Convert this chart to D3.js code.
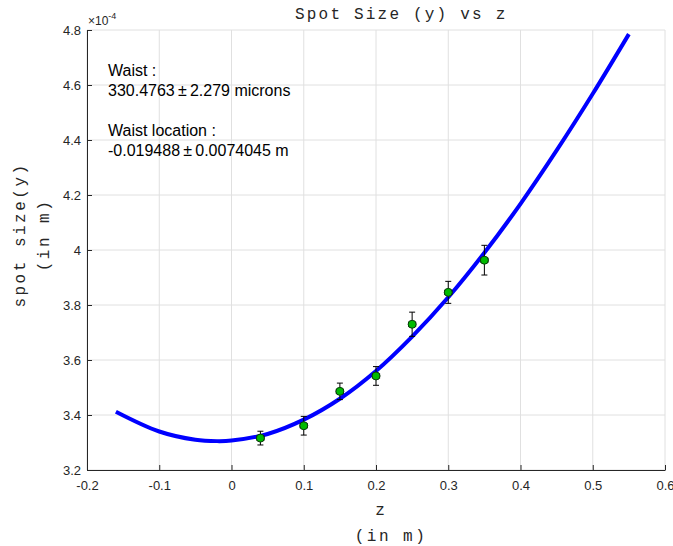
<!DOCTYPE html>
<html lang="en">
<head>
    <meta charset="UTF-8">
    <script src="https://cdn.jsdelivr.net/npm/d3@7.8.5/dist/d3.min.js"></script>
    <title>Spot Size (y) vs z</title>
    <style>
        body { margin: 0; background: #fff; }
        .tick text { font-family: "Liberation Sans", Arial, sans-serif; font-size: 13px; fill: #262626; }
        .mono { font-family: "Liberation Mono", "Courier New", monospace; fill: #262626; }
        .note { font-family: "Liberation Sans", Arial, sans-serif; font-size: 16px; fill: #000; }
        .expo { font-family: "Liberation Sans", Arial, sans-serif; font-size: 12px; fill: #262626; }
    </style>
</head>
<body>
    <svg width="673" height="546"></svg>
    <script type="text/javascript">
        // measured points (z in m, spot size in units of 1e-4 m)
        var zPos = [0.04, 0.10, 0.15, 0.20, 0.25, 0.30, 0.35];
        var spotSize = [3.316, 3.361, 3.486, 3.542, 3.730, 3.846, 3.963];
        var spotErr = [0.025, 0.034, 0.030, 0.034, 0.044, 0.040, 0.054];
        var zErr = [0.005, 0.005, 0.005, 0.005, 0.005, 0.005, 0.005];

        // fitted curve
        var fitZ = [-0.16, -0.10, -0.05, -0.02, 0, 0.05, 0.10, 0.15, 0.20, 0.25, 0.30, 0.35, 0.40, 0.45, 0.50, 0.55];
        var fitSize = [3.412, 3.340, 3.310, 3.305, 3.307, 3.331, 3.383, 3.459, 3.560, 3.685, 3.828, 3.990, 4.168, 4.362, 4.568, 4.785];

        var xTicks = [-0.2, -0.1, 0, 0.1, 0.2, 0.3, 0.4, 0.5, 0.6];
        var yTicks = [3.2, 3.4, 3.6, 3.8, 4, 4.2, 4.4, 4.6, 4.8];

        var noteLines = ["Waist :", "330.4763\u2009\u00b1\u20092.279 microns", "", "Waist location :", "-0.019488\u2009\u00b1\u20090.0074045 m"];

        var svg = d3.select("svg");
        var pLeft = 87, pRight = 665, pTop = 30, pBottom = 470;

        var xScale = d3.scaleLinear().domain([-0.2, 0.6]).range([pLeft, pRight]);
        var yScale = d3.scaleLinear().domain([3.2, 4.8]).range([pBottom, pTop]);
        var fmt = function(d) { return String(+d.toFixed(1)); };

        // grid
        var grid = svg.append("g");
        grid.selectAll(".gx").data(xTicks).enter().append("line")
            .attr("x1", function(d){ return xScale(d); }).attr("x2", function(d){ return xScale(d); })
            .attr("y1", pTop).attr("y2", pBottom)
            .attr("stroke", "#e0e0e0").attr("stroke-width", 1);
        grid.selectAll(".gy").data(yTicks).enter().append("line")
            .attr("y1", function(d){ return yScale(d); }).attr("y2", function(d){ return yScale(d); })
            .attr("x1", pLeft).attr("x2", pRight)
            .attr("stroke", "#e0e0e0").attr("stroke-width", 1);

        // axes, ticks pointing inward
        var xAxis = svg.append("g").attr("transform", "translate(0," + pBottom + ")")
            .call(d3.axisTop(xScale).tickValues(xTicks).tickFormat(fmt).tickSizeInner(5).tickSizeOuter(0));
        xAxis.selectAll(".tick text").attr("y", 20).attr("dy", 0);
        var yAxis = svg.append("g").attr("transform", "translate(" + pLeft + ",0)")
            .call(d3.axisRight(yScale).tickValues(yTicks).tickFormat(fmt).tickSizeInner(5).tickSizeOuter(0));
        yAxis.selectAll(".tick text").attr("x", -6).attr("text-anchor", "end").attr("dy", "0.35em");
        svg.selectAll(".domain, .tick line").attr("stroke", "#262626");

        // exponent label
        var ex = svg.append("text").attr("class", "expo").attr("x", 88).attr("y", 25);
        ex.append("tspan").text("\u00d710");
        ex.append("tspan").attr("dy", -6).style("font-size", "9px").text("-4");

        // fitted curve
        var line = d3.line()
            .x(function(d, i){ return xScale(fitZ[i]); })
            .y(function(d){ return yScale(d); })
            .curve(d3.curveCatmullRom);
        svg.append("path").datum(fitSize)
            .attr("d", line).attr("fill", "none")
            .attr("stroke", "#0000ff").attr("stroke-width", 4);

        // error bars + points
        var pts = svg.append("g").selectAll("g").data(zPos).enter().append("g");
        pts.append("line")
            .attr("x1", function(d){ return xScale(d); }).attr("x2", function(d){ return xScale(d); })
            .attr("y1", function(d, i){ return yScale(spotSize[i] + spotErr[i]); })
            .attr("y2", function(d, i){ return yScale(spotSize[i] - spotErr[i]); })
            .attr("stroke", "#000").attr("stroke-width", 1);
        [1, -1].forEach(function(s) {
            pts.append("line")
                .attr("x1", function(d){ return xScale(d) - 3; }).attr("x2", function(d){ return xScale(d) + 3; })
                .attr("y1", function(d, i){ return yScale(spotSize[i] + s * spotErr[i]); })
                .attr("y2", function(d, i){ return yScale(spotSize[i] + s * spotErr[i]); })
                .attr("stroke", "#000").attr("stroke-width", 1);
            pts.append("line")
                .attr("x1", function(d, i){ return xScale(d + s * zErr[i]); })
                .attr("x2", function(d, i){ return xScale(d + s * zErr[i]); })
                .attr("y1", function(d, i){ return yScale(spotSize[i]) - 2.5; })
                .attr("y2", function(d, i){ return yScale(spotSize[i]) + 2.5; })
                .attr("stroke", "#000").attr("stroke-width", 1);
        });
        pts.append("line")
            .attr("x1", function(d, i){ return xScale(d - zErr[i]); })
            .attr("x2", function(d, i){ return xScale(d + zErr[i]); })
            .attr("y1", function(d, i){ return yScale(spotSize[i]); })
            .attr("y2", function(d, i){ return yScale(spotSize[i]); })
            .attr("stroke", "#000").attr("stroke-width", 1);
        pts.append("circle")
            .attr("cx", function(d){ return xScale(d); })
            .attr("cy", function(d, i){ return yScale(spotSize[i]); })
            .attr("r", 4).attr("fill", "#00bb00").attr("stroke", "#0a3a0a").attr("stroke-width", 1);

        // annotation
        svg.append("g").selectAll("text").data(noteLines).enter().append("text")
            .attr("class", "note").attr("x", 108)
            .attr("y", function(d, i){ return 76 + i * 20; })
            .text(function(d){ return d; });

        // title and labels
        svg.append("text").attr("class", "mono").attr("x", 295).attr("y", 19)
            .style("font-size", "16px").style("letter-spacing", "2.2px")
            .text("Spot Size (y) vs z");
        svg.append("text").attr("class", "mono").attr("x", 381).attr("y", 515)
            .attr("text-anchor", "middle").style("font-size", "16px").style("letter-spacing", "2px").text("z");
        svg.append("text").attr("class", "mono").attr("x", 391).attr("y", 541)
            .attr("text-anchor", "middle").style("font-size", "16px").style("letter-spacing", "2.5px").text("(in m)");
        svg.append("text").attr("class", "mono")
            .attr("transform", "translate(25,235) rotate(-90)")
            .attr("text-anchor", "middle").style("font-size", "16px").style("letter-spacing", "2.5px").text("spot size(y)");
        svg.append("text").attr("class", "mono")
            .attr("transform", "translate(49,235) rotate(-90)")
            .attr("text-anchor", "middle").style("font-size", "16px").style("letter-spacing", "2.5px").text("(in m)");
    </script>
</body>
</html>
